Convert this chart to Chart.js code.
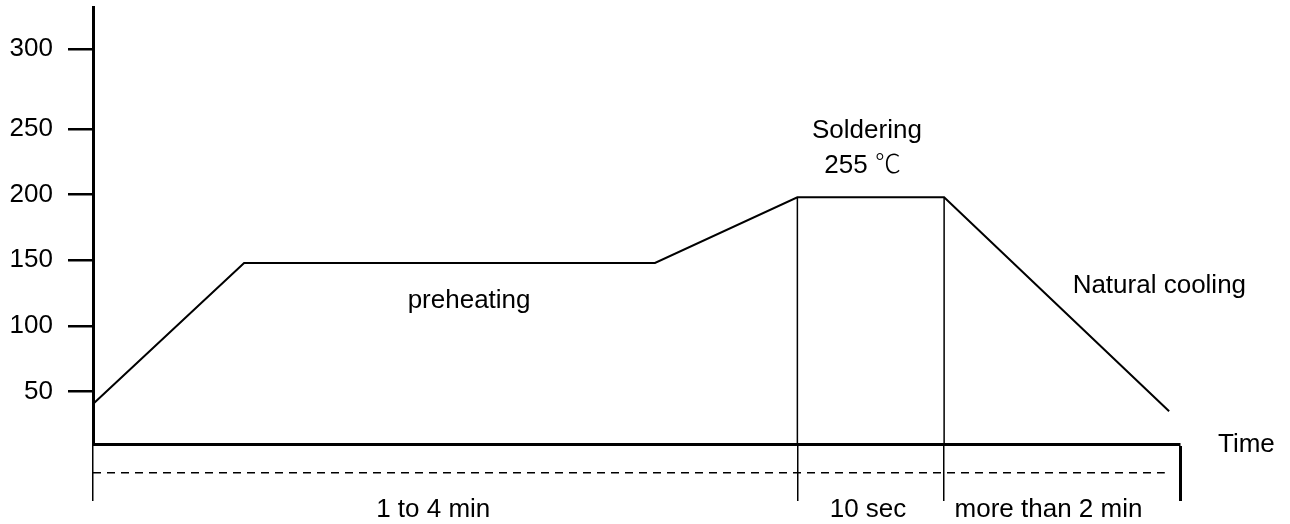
<!DOCTYPE html>
<html>
<head>
<meta charset="utf-8">
<script src="https://cdn.jsdelivr.net/npm/chart.js@4/dist/chart.umd.min.js"></script>
<style>
html,body{margin:0;padding:0;background:#fff;}
#wrap{width:1290px;height:524px;position:relative;}
</style>
</head>
<body>
<div id="wrap"><canvas id="c"></canvas></div>
<script>
// ---- data ----
const timePoints   = [0, 13.9, 51.7, 64.8, 78.3, 99.0];
const temperatures = [40.5, 148, 148, 198, 198, 35];
const yTickValues  = [50, 100, 150, 200, 250, 311];
const yTickLabels  = ['50', '100', '150', '200', '250', '300'];
const phaseBounds  = [0, 64.8, 78.3, 100];
const phaseLabels  = ['1 to 4 min', '10 sec', 'more than 2 min'];
const guideTemp    = -12;
const guideEnd     = 98.6;

// ---- chart ----
const FONT = '"Liberation Sans", Arial, sans-serif';
const profile = timePoints.map((t, i) => ({x: t, y: temperatures[i]}));
const solderStart = [{x: phaseBounds[1], y: temperatures[3]}, {x: phaseBounds[1], y: 10}];
const solderEnd   = [{x: phaseBounds[2], y: temperatures[4]}, {x: phaseBounds[2], y: 10}];
const guide = [{x: 0, y: guideTemp}, {x: guideEnd, y: guideTemp}];

// annotation placement (data units)
const notes = [
  {text: 'preheating', x: 34.6, y: 113.6},
  {text: 'Soldering', x: 71.2, y: 243.2},
  {text: 'Natural cooling', x: 98.1, y: 125.1}
];
const phaseLabelAt = [31.3, 71.3, 87.9];

const textPlugin = {
  id: 'texts',
  afterDraw(chart) {
    const ctx = chart.ctx, xs = chart.scales.x, ys = chart.scales.y;
    ctx.save();
    ctx.fillStyle = '#000';
    ctx.font = '26px ' + FONT;
    ctx.textAlign = 'center';
    ctx.textBaseline = 'alphabetic';
    notes.forEach(n => ctx.fillText(n.text, xs.getPixelForValue(n.x), ys.getPixelForValue(n.y)));
    // 255 ℃
    const bx = xs.getPixelForValue(70.8), by = ys.getPixelForValue(216.5);
    const w1 = ctx.measureText('255 ').width;
    ctx.font = '300 26px "Noto Sans CJK SC"';
    const w2 = ctx.measureText('℃').width;
    const left = bx - (w1 + w2) / 2;
    ctx.textAlign = 'left';
    ctx.font = '26px ' + FONT;
    ctx.fillText('255 ', left, by);
    ctx.font = '300 26px "Noto Sans CJK SC"';
    ctx.fillText('℃', left + w1, by);
    // phase labels
    ctx.font = '26px ' + FONT;
    ctx.textAlign = 'center';
    phaseLabels.forEach((lab, i) => {
      ctx.fillText(lab, xs.getPixelForValue(phaseLabelAt[i]), xs.top + 73);
    });
    // axis name
    ctx.textAlign = 'left';
    ctx.fillText('Time', xs.right + 38, xs.top + 8);
    ctx.restore();
  }
};

new Chart(document.getElementById('c'), {
  type: 'line',
  data: {
    datasets: [
      {data: profile, borderColor: '#000', borderWidth: 2, pointRadius: 0, tension: 0, clip: false},
      {data: solderStart, borderColor: '#000', borderWidth: 1.5, pointRadius: 0, clip: false},
      {data: solderEnd, borderColor: '#000', borderWidth: 1.5, pointRadius: 0, clip: false},
      {data: guide, borderColor: '#000', borderWidth: 1.5, borderDash: [8, 6], pointRadius: 0, clip: false}
    ]
  },
  options: {
    responsive: true,
    maintainAspectRatio: false,
    animation: false,
    events: [],
    layout: {padding: {top: 7, right: 110, bottom: 0, left: 0}},
    plugins: {legend: {display: false}, tooltip: {enabled: false}, title: {display: false}},
    scales: {
      x: {
        type: 'linear', min: 0, max: 100,
        afterBuildTicks: s => { s.ticks = phaseBounds.map(v => ({value: v})); },
        afterFit: s => { s.height = 80; s.paddingLeft = 0; s.paddingRight = 0; },
        ticks: {display: false},
        grid: {
          drawOnChartArea: false, drawTicks: true, tickLength: 57, color: '#000',
          lineWidth: c => (c.index === phaseBounds.length - 1 ? 3 : 1.5)
        },
        border: {display: true, color: '#000', width: 3}
      },
      y: {
        type: 'linear', min: 10, max: 343,
        afterBuildTicks: s => { s.ticks = yTickValues.map(v => ({value: v})); },
        afterFit: s => { s.width = 93; s.paddingTop = 0; s.paddingBottom = 0; },
        ticks: {
          color: '#000', padding: 15, font: {family: FONT, size: 26},
          callback: (v, i) => yTickLabels[i]
        },
        grid: {drawOnChartArea: false, drawTicks: true, tickLength: 25, lineWidth: 2.5, color: '#000'},
        border: {display: true, color: '#000', width: 3}
      }
    }
  },
  plugins: [textPlugin]
});
</script>
</body>
</html>
